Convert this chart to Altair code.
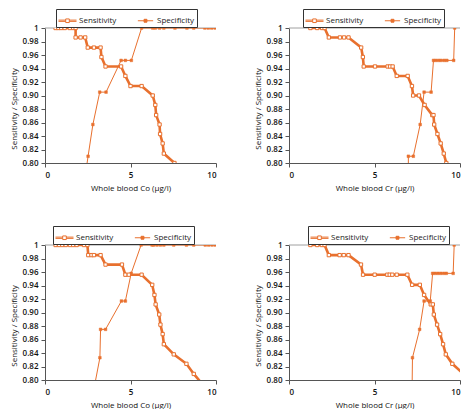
import altair as alt
import pandas as pd

ORANGE = "#E8702E"
FONT = "Open Sans"
SERIES = ["Sensitivity", "Specificity"]

# ---- Panel 1: whole blood Co (top) ----
co1_sens_x = [0.62, 0.78, 0.95, 1.15, 1.45, 1.65, 1.79, 1.79, 2.08, 2.35, 2.5, 2.86, 3.25, 3.3,
              3.54, 4.45, 4.7, 5.0, 5.65, 6.3, 6.45, 6.5, 6.7, 6.73, 6.88, 6.95, 7.57]
co1_sens_y = [1, 1, 1, 1, 1, 1, 1, 0.986, 0.986, 0.986, 0.971, 0.971, 0.971, 0.957,
              0.943, 0.943, 0.929, 0.914, 0.914, 0.900, 0.886, 0.871, 0.857, 0.843, 0.829, 0.814, 0.800]
co1_spec_x = [2.24, 2.52, 2.8, 3.2, 3.57, 4.45, 4.7, 5.05, 5.65, 6.3, 6.45, 6.7, 6.95, 7.6,
              8.3, 8.7, 9.35, 9.55, 9.75, 9.95]
co1_spec_y = [0.762, 0.810, 0.857, 0.905, 0.905, 0.952, 0.952, 0.952, 1, 1, 1, 1, 1, 1,
              1, 1, 1, 1, 1, 1]

# ---- Panel 2: whole blood Cr (top) ----
cr1_sens_x = [1.25, 1.65, 1.94, 2.08, 2.33, 2.98, 3.22, 3.48, 4.22, 4.32, 4.37, 5.03, 5.77, 5.91,
              6.06, 6.3, 6.94, 7.19, 7.26, 7.6, 7.93, 8.38, 8.45, 8.49, 8.68, 8.87, 9.05, 9.2]
cr1_sens_y = [1, 1, 1, 1, 0.986, 0.986, 0.986, 0.986, 0.971, 0.957, 0.943, 0.943, 0.943, 0.943,
              0.943, 0.929, 0.929, 0.914, 0.900, 0.900, 0.886, 0.871, 0.871, 0.857, 0.843, 0.829, 0.814, 0.800]
cr1_spec_x = [6.98, 6.98, 7.27, 7.67, 7.9, 8.31, 8.45, 8.59, 8.75, 8.9, 9.08, 9.23, 9.63, 9.69]
cr1_spec_y = [0.762, 0.810, 0.810, 0.857, 0.905, 0.905, 0.952, 0.952, 0.952, 0.952, 0.952, 0.952, 0.952, 1.0]

# ---- Panel 3: whole blood Co (bottom) ----
co2_sens_x = [0.62, 0.82, 1.01, 1.21, 1.46, 1.65, 1.85, 2.28, 2.48, 2.53, 2.72, 2.86, 3.25, 3.54,
              4.5, 4.7, 4.9, 5.65, 6.27, 6.4, 6.47, 6.68, 6.75, 6.88, 6.95, 7.53, 8.27, 8.7, 9.2]
co2_sens_y = [1, 1, 1, 1, 1, 1, 1, 1, 1, 0.985, 0.985, 0.985, 0.985, 0.971,
              0.971, 0.956, 0.956, 0.956, 0.941, 0.926, 0.912, 0.897, 0.882, 0.868, 0.853, 0.838, 0.824, 0.809, 0.794]
co2_spec_x = [2.9, 3.21, 3.25, 3.54, 4.47, 4.7, 5.04, 5.62, 6.26, 6.36, 6.55, 6.75, 6.95, 7.53,
              8.27, 8.7, 9.37, 9.57, 9.77, 9.96]
co2_spec_y = [0.792, 0.833, 0.875, 0.875, 0.917, 0.917, 0.958, 1, 1, 1, 1, 1, 1, 1,
              1, 1, 1, 1, 1, 1]

# ---- Panel 4: whole blood Cr (bottom) ----
cr2_sens_x = [1.25, 1.65, 1.92, 2.08, 2.33, 2.96, 3.2, 3.48, 4.21, 4.33, 5.01, 5.75, 5.89, 6.04,
              6.3, 6.92, 7.2, 7.65, 7.9, 8.29, 8.41, 8.47, 8.66, 8.84, 9.01, 9.17, 9.55, 10.2]
cr2_sens_y = [1, 1, 1, 1, 0.985, 0.985, 0.985, 0.985, 0.971, 0.956, 0.956, 0.956, 0.956, 0.956,
              0.956, 0.956, 0.941, 0.941, 0.926, 0.912, 0.912, 0.897, 0.882, 0.868, 0.853, 0.838, 0.824, 0.809]
cr2_spec_x = [7.2, 7.22, 7.64, 7.9, 8.26, 8.4, 8.55, 8.71, 8.87, 9.04, 9.2, 9.6, 9.66]
cr2_spec_y = [0.792, 0.833, 0.875, 0.917, 0.917, 0.958, 0.958, 0.958, 0.958, 0.958, 0.958, 0.958, 1.0]

y_ticks = [0.80, 0.82, 0.84, 0.86, 0.88, 0.90, 0.92, 0.94, 0.96, 0.98, 1.0]
x_ticks = [0, 5, 10]
top_line = [1.0]

PATH_SENS = ("M-1,-0.07H-0.2M0.2,-0.07H1M-1,0.07H-0.2M0.2,0.07H1"
             "M-0.2,-0.2H0.2V0.2H-0.2Z")
PATH_SPEC = "M-0.85,0H0.85M-0.16,-0.16H0.16V0.16H-0.16Z"

W, H = 171, 135


def panel_df(sx, sy, px, py):
    rows = []
    for i, (x, y) in enumerate(zip(sx, sy)):
        rows.append({"x": x, "y": y, "series": "Sensitivity", "idx": i})
    for i, (x, y) in enumerate(zip(px, py)):
        rows.append({"x": x, "y": y, "series": "Specificity", "idx": i})
    return pd.DataFrame(rows)


def make_panel(df, xtitle, legend_x, legend_y=-19):
    xs = alt.Scale(domain=[0, 10], nice=False, zero=False)
    ys = alt.Scale(domain=[0.8, 1.0], nice=False, zero=False)
    xenc = alt.X("x:Q", scale=xs, axis=alt.Axis(values=x_ticks, title=xtitle, grid=False,
                                                  tickSize=4, labelPadding=4, titlePadding=5,
                                                  labelOverlap=False))
    yenc = alt.Y("y:Q", scale=ys, axis=alt.Axis(
        values=y_ticks, grid=False, tickSize=4, labelPadding=3, labelOverlap=False,
        title="Sensitivity / Specificity",
        labelExpr="datum.value >= 0.999 ? '1' : format(datum.value, '.2f')",
        titleX=-27, titleY=H / 2 + 13))

    rule = alt.Chart(pd.DataFrame({"y": top_line})).mark_rule(
        color="#a0a0a0", strokeWidth=1).encode(y=yenc)

    base = alt.Chart(df)
    sens = base.transform_filter(alt.datum.series == "Sensitivity")
    spec = base.transform_filter(alt.datum.series == "Specificity")

    spec_line = spec.mark_line(color=ORANGE, strokeWidth=1, clip=True).encode(
        x=xenc, y=yenc, order="idx:Q")
    sens_line = sens.mark_line(color=ORANGE, strokeWidth=2.6, clip=True).encode(
        x=xenc, y=yenc, order="idx:Q")
    spec_pts = spec.mark_point(shape="square", size=7, filled=True, fill=ORANGE,
                               stroke=ORANGE, strokeWidth=0.5, opacity=1, clip=True).encode(x=xenc, y=yenc)
    sens_pts = sens.mark_point(shape="square", size=11, filled=True, fill="white",
                               stroke=ORANGE, strokeWidth=1, opacity=1, clip=True).encode(x=xenc, y=yenc)

    leg = alt.Legend(orient="none", legendX=legend_x, legendY=legend_y, direction="horizontal",
                     title=None, strokeColor="#333333", padding=2, columnPadding=18,
                     labelOffset=2, symbolSize=324, labelFontSize=8, labelFont=FONT,
                     labelColor="#222222", symbolStrokeWidth=1)
    legend_layer = base.transform_filter("false").mark_point(
        filled=True, stroke=ORANGE, strokeWidth=1, opacity=1, size=324).encode(
        shape=alt.Shape("series:N", scale=alt.Scale(domain=SERIES, range=[PATH_SENS, PATH_SPEC]), legend=leg),
        fill=alt.Fill("series:N", scale=alt.Scale(domain=SERIES, range=["white", ORANGE]), legend=leg),
    )

    return alt.layer(rule, spec_line, sens_line, spec_pts, sens_pts, legend_layer).properties(
        width=W, height=H)


p1 = make_panel(panel_df(co1_sens_x, co1_sens_y, co1_spec_x, co1_spec_y), "Whole blood Co (µg/l)", 11)
p2 = make_panel(panel_df(cr1_sens_x, cr1_sens_y, cr1_spec_x, cr1_spec_y), "Whole blood Cr (µg/l)", 14)
p3 = make_panel(panel_df(co2_sens_x, co2_sens_y, co2_spec_x, co2_spec_y), "Whole blood Co (µg/l)", 8)
p4 = make_panel(panel_df(cr2_sens_x, cr2_sens_y, cr2_spec_x, cr2_spec_y), "Whole blood Cr (µg/l)", 19)


def row(a, b):
    return alt.hconcat(a, b, spacing=37).resolve_scale(
        shape="independent", fill="independent").resolve_legend(
        shape="independent", fill="independent")


chart = alt.vconcat(row(p1, p2), row(p3, p4), spacing=33).resolve_scale(
    shape="independent", fill="independent").resolve_legend(
    shape="independent", fill="independent").properties(
    padding={"left": 2, "top": 0, "right": 0, "bottom": 0}
).configure_view(stroke=None).configure_axis(
    labelFont=FONT, titleFont=FONT, labelFontSize=8, titleFontSize=8,
    labelColor="#111111", titleColor="#111111", labelFontWeight=600, titleFontWeight="normal",
    domainColor="#555555", tickColor="#555555", domainWidth=1, tickWidth=1,
    labelOverlap=False
)

chart.save("out.html", embed_options={"renderer": "svg", "actions": False})
